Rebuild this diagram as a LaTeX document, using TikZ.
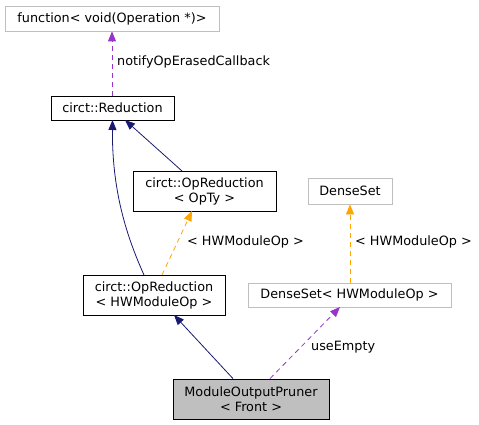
\documentclass[tikz,border=0pt]{standalone}
\usepackage{fontspec}
\setmainfont{DejaVu Sans}
\usepackage{tikz}
\usetikzlibrary{arrows.meta}

\definecolor{navyedge}{HTML}{191970}
\definecolor{purpleedge}{HTML}{9A32CD}
\definecolor{orangeedge}{HTML}{FFA500}
\definecolor{greybox}{HTML}{BFBFBF}

\begin{document}
\begin{tikzpicture}[x=1pt, y=-1pt, font=\fontsize{12.8}{15}\selectfont,
                    main/.style = {draw=black, fill=white, rectangle, align=center, inner sep=0pt, line width=0.8pt},
                    extnode/.style = {main, draw=greybox},
                    curnode/.style = {main, fill=greybox},
                    inherit/.style = {draw=navyedge, line width=0.8pt, -{Triangle[length=10pt, width=8pt]}},
                    usage/.style = {draw=purpleedge, line width=0.8pt, dash pattern=on 5pt off 4pt, -{Triangle[length=10pt, width=8pt]}},
                    templ/.style = {draw=orangeedge, line width=0.8pt, dash pattern=on 5pt off 4pt, -{Triangle[length=10pt, width=8pt]}},
                    edgelabel/.style = {anchor=west, inner sep=0pt}]
        \useasboundingbox (0,0) rectangle (479,425);
        \node[extnode, minimum width=214pt, minimum height=25pt] (0) at (112,18.5) {function< void(Operation *)>};
        \node[main, minimum width=123pt, minimum height=24pt] (1) at (112.5,108) {circt::Reduction};
        \node[main, minimum width=143pt, minimum height=40pt] (2) at (204.5,191) {circt::OpReduction\\< OpTy >};
        \node[main, minimum width=142pt, minimum height=40pt] (3) at (154,295) {circt::OpReduction\\< HWModuleOp >};
        \node[extnode, minimum width=84pt, minimum height=26pt] (4) at (350,191) {DenseSet};
        \node[extnode, minimum width=203pt, minimum height=24pt] (5) at (349.5,295) {DenseSet< HWModuleOp >};
        \node[curnode, minimum width=156pt, minimum height=40pt] (6) at (251,399) {ModuleOutputPruner\\< Front >};
        \draw[usage] (1.north -| 0.south) -- (0.south);
        \node[edgelabel] (l0) at (117,62) {notifyOpErasedCallback};
        \draw[inherit] (182,171) -- (125,120);
        \draw[inherit] (144,275) .. controls (126,235) and (112,190) .. (112.5,120);
        \draw[templ] (162,275) -- (192,211);
        \node[edgelabel] (l1) at (187,242) {< HWModuleOp >};
        \draw[templ] (5.north -| 4.south) -- (4.south);
        \node[edgelabel] (l2) at (355,242) {< HWModuleOp >};
        \draw[inherit] (6.north -| 233,0) -- (174,315);
        \draw[usage] (6.north -| 270,0) -- (340,307);
        \node[edgelabel] (l3) at (311,347) {useEmpty};
\end{tikzpicture}
\end{document}
